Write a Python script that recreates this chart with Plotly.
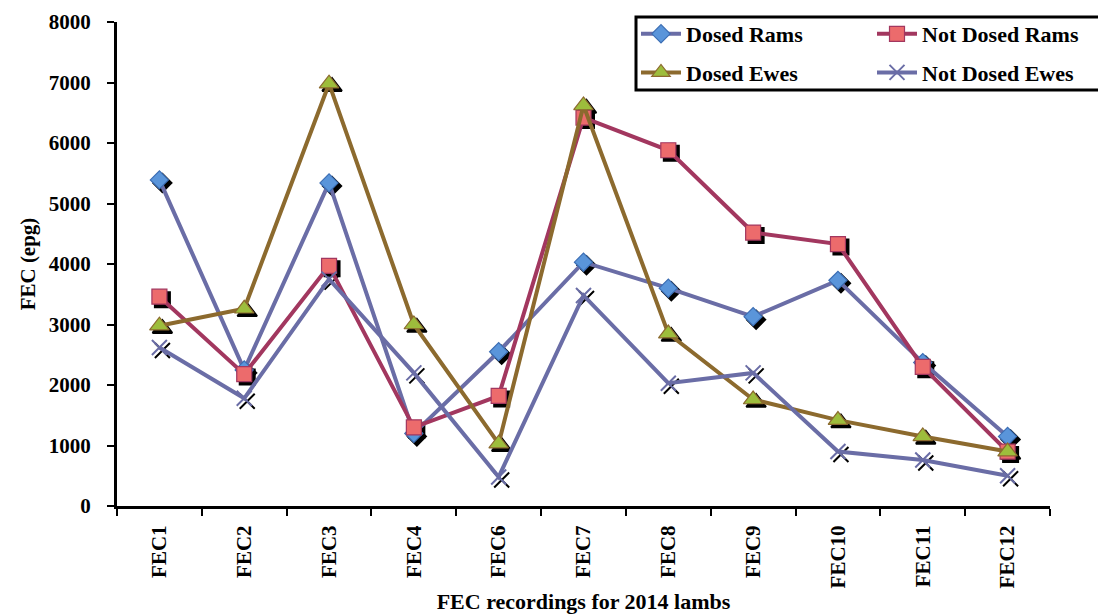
import plotly.graph_objects as go

# FEC recordings (eggs per gram) for the 2014 lambs
recordings = ["FEC1", "FEC2", "FEC3", "FEC4", "FEC6", "FEC7",
              "FEC8", "FEC9", "FEC10", "FEC11", "FEC12"]

dosed_rams = [5390, 2250, 5340, 1200, 2550, 4030, 3600, 3130, 3730, 2370, 1150]
not_dosed_rams = [3460, 2180, 3970, 1300, 1820, 6420, 5880, 4520, 4330, 2300, 900]
dosed_ewes = [2980, 3260, 6980, 3000, 1030, 6620, 2850, 1760, 1420, 1150, 900]
not_dosed_ewes = [2620, 1780, 3750, 2200, 480, 3480, 2030, 2200, 900, 760, 500]

y_ticks = [0, 1000, 2000, 3000, 4000, 5000, 6000, 7000, 8000]

FONT = "Liberation Serif"

series = [
    dict(name="Dosed Rams", y=dosed_rams, line="#6A6DA6", legend="legend",
         symbol="diamond", size=14, fill="#5A95DA", edge="#3C6EB4"),
    dict(name="Not Dosed Rams", y=not_dosed_rams, line="#A2375F", legend="legend2",
         symbol="square", size=15, fill="#EC6B6C", edge="#A2375F"),
    dict(name="Dosed Ewes", y=dosed_ewes, line="#8C6A2E", legend="legend",
         symbol="triangle-up", size=17, fill="#9DBD3C", edge="#8C6A2E"),
    dict(name="Not Dosed Ewes", y=not_dosed_ewes, line="#6A6DA6", legend="legend2",
         symbol="x-thin", size=15, fill="#6A6DA6", edge="#6A6DA6"),
]

fig = go.Figure()

# drop shadows for the markers, drawn on an axis pair nudged right/down
for s in series:
    fig.add_trace(go.Scatter(
        x=recordings, y=s["y"], mode="markers", showlegend=False,
        hoverinfo="skip", xaxis="x", yaxis="y",
        marker=dict(symbol=s["symbol"], size=s["size"], color="black",
                    line=dict(color="black", width=2)),
    ))

# the series themselves
for s in series:
    fig.add_trace(go.Scatter(
        x=recordings, y=s["y"], mode="lines+markers", name=s["name"],
        xaxis="x2", yaxis="y2", legend=s["legend"], legendgroup=s["name"],
        line=dict(color=s["line"], width=4),
        marker=dict(symbol=s["symbol"], size=s["size"], color=s["fill"],
                    line=dict(color=s["edge"], width=2 if s["symbol"] == "x-thin" else 1.2)),
    ))

W, H = 1098, 614
L, R, T, B = 117, 45, 22, 105
pw, ph = W - L - R, H - T - B
dx, dy = 3 / pw, 3 / ph


def px_x(p):
    return (p - L) / pw


def px_y(p):
    return (H - B - p) / ph


xrange = [-0.5, len(recordings) - 0.5]
yrange = [0, 8000]

legend_font = dict(family=FONT, size=22, color="black", weight="bold")
legend_common = dict(
    orientation="v", xanchor="left", yanchor="top", y=px_y(13),
    bgcolor="rgba(0,0,0,0)", borderwidth=0, font=legend_font,
    itemwidth=40, tracegroupgap=7,
)

fig.update_layout(
    width=W, height=H,
    margin=dict(l=L, r=R, t=T, b=B),
    paper_bgcolor="white", plot_bgcolor="rgba(0,0,0,0)",
    font=dict(family=FONT, color="black"),
    showlegend=True,
    xaxis=dict(domain=[dx, 1], anchor="y", range=xrange, type="category",
               visible=False, showgrid=False),
    yaxis=dict(domain=[0, 1 - dy], anchor="x", range=yrange,
               visible=False, showgrid=False),
    xaxis2=dict(
        domain=[0, 1 - dx], anchor="y2", range=xrange, type="category",
        showline=True, linecolor="black", linewidth=3, mirror=False,
        ticks="outside", ticklen=7, tickwidth=2, tickcolor="black",
        tickson="boundaries", showgrid=False, zeroline=False,
        tickangle=-90, tickfont=dict(family=FONT, size=21, color="black", weight="bold"),
        ticklabelstandoff=8, automargin=False,
        title=dict(text="<b>FEC recordings for 2014 lambs</b>",
                   font=dict(family=FONT, size=22, color="black"), standoff=14),
    ),
    yaxis2=dict(
        domain=[dy, 1], anchor="x2", range=yrange, tickvals=y_ticks,
        showline=True, linecolor="black", linewidth=3,
        ticks="outside", ticklen=7, tickwidth=2, tickcolor="black",
        showgrid=False, zeroline=False, automargin=False,
        tickfont=dict(family=FONT, size=21, color="black", weight="bold"),
        ticklabelstandoff=12,
        title=dict(text="<b>FEC (epg)</b>",
                   font=dict(family=FONT, size=21, color="black"), standoff=8),
    ),
    legend=dict(x=px_x(636), **legend_common),
    legend2=dict(x=px_x(872), **legend_common),
    shapes=[dict(type="rect", xref="paper", yref="paper",
                 x0=px_x(636), x1=px_x(1120), y0=px_y(90), y1=px_y(17),
                 line=dict(color="black", width=3), fillcolor="white",
                 layer="above")],
)

fig.write_html("out.html")
